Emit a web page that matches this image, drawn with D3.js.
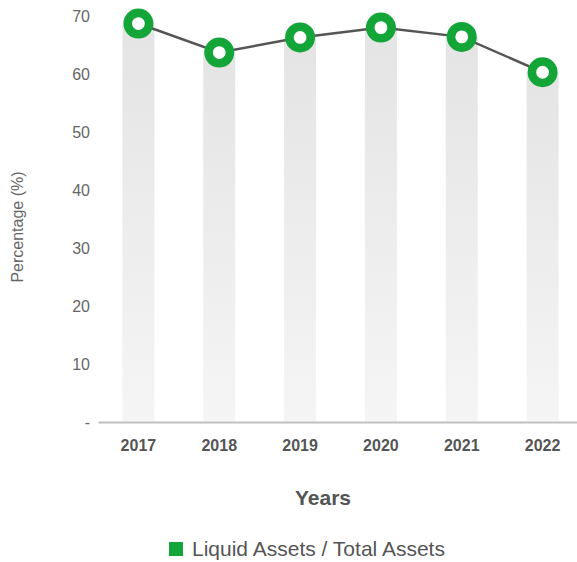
<!DOCTYPE html>
<html>
<head>
<meta charset="utf-8">
<script src="https://cdn.jsdelivr.net/npm/d3@7"></script>
<style>
  html, body { margin: 0; padding: 0; background: #fff; }
  svg { display: block; font-family: "Liberation Sans", Arial, sans-serif; }
</style>
</head>
<body>
<div id="chart"></div>
<script>
// chart data
const years = ['2017', '2018', '2019', '2020', '2021', '2022'];
const liquidRatio = [68.7, 63.7, 66.3, 68.0, 66.4, 60.3];
const yTicks = [0, 10, 20, 30, 40, 50, 60, 70];
const seriesName = 'Liquid Assets / Total Assets';

const width = 577, height = 562;
const margin = { top: 16, right: -6, bottom: 140, left: 98 };
const green = '#14a538';

const svg = d3.select('#chart')
    .append('svg')
    .attr('width', width)
    .attr('height', height);

const x = d3.scaleBand()
    .domain(years)
    .range([margin.left, width - margin.right]);

const y = d3.scaleLinear()
    .domain([0, 70])
    .range([height - margin.bottom, margin.top]);

// gradient for the background columns
const grad = svg.append('defs').append('linearGradient')
    .attr('id', 'colGrad')
    .attr('x1', 0).attr('y1', 0).attr('x2', 0).attr('y2', 1);
grad.append('stop').attr('offset', '0%').attr('stop-color', '#e4e4e4');
grad.append('stop').attr('offset', '100%').attr('stop-color', '#f5f5f5');

const barW = 32;
const cx = d => x(d) + x.bandwidth() / 2;

// columns
svg.append('g')
    .selectAll('rect')
    .data(years)
    .enter().append('rect')
    .attr('x', d => cx(d) - barW / 2)
    .attr('y', (d, i) => y(liquidRatio[i]))
    .attr('width', barW)
    .attr('height', (d, i) => y(0) - y(liquidRatio[i]) - 1)
    .attr('fill', 'url(#colGrad)');

// y axis labels
const yAxis = svg.append('g')
    .attr('transform', `translate(${margin.left},0)`)
    .call(d3.axisLeft(y).tickValues(yTicks).tickSize(0).tickPadding(8)
        .tickFormat(d => d === 0 ? '-' : d));
yAxis.select('.domain').remove();
yAxis.selectAll('text')
    .attr('fill', '#666')
    .style('font-size', '16px');

// x axis
const xAxis = svg.append('g')
    .attr('transform', `translate(0,${y(0)})`)
    .call(d3.axisBottom(x).tickSize(0).tickPadding(18));
xAxis.select('.domain')
    .attr('stroke', '#c0c0c0')
    .attr('stroke-width', 2);
xAxis.selectAll('text')
    .attr('fill', '#555')
    .style('font-size', '16px')
    .style('font-weight', 'bold');

// line
const line = d3.line()
    .x((d, i) => cx(years[i]))
    .y(d => y(d));

svg.append('path')
    .datum(liquidRatio)
    .attr('fill', 'none')
    .attr('stroke', '#555')
    .attr('stroke-width', 2.5)
    .attr('d', line);

// markers
svg.append('g')
    .selectAll('circle')
    .data(liquidRatio)
    .enter().append('circle')
    .attr('cx', (d, i) => cx(years[i]))
    .attr('cy', d => y(d))
    .attr('r', 10.7)
    .attr('fill', '#fff')
    .attr('stroke', green)
    .attr('stroke-width', 8.6);

// axis titles
svg.append('text')
    .attr('transform', `translate(23,227) rotate(-90)`)
    .attr('text-anchor', 'middle')
    .attr('fill', '#666')
    .style('font-size', '16px')
    .text('Percentage (%)');

svg.append('text')
    .attr('x', 323)
    .attr('y', 505)
    .attr('text-anchor', 'middle')
    .attr('fill', '#555')
    .style('font-size', '21px')
    .style('font-weight', 'bold')
    .text('Years');

// legend
const legend = svg.append('g').attr('transform', 'translate(169,542)');
legend.append('rect')
    .attr('width', 14)
    .attr('height', 14)
    .attr('fill', green);
legend.append('text')
    .attr('x', 23)
    .attr('y', 14)
    .attr('fill', '#555')
    .style('font-size', '21px')
    .text(seriesName);
</script>
</body>
</html>
